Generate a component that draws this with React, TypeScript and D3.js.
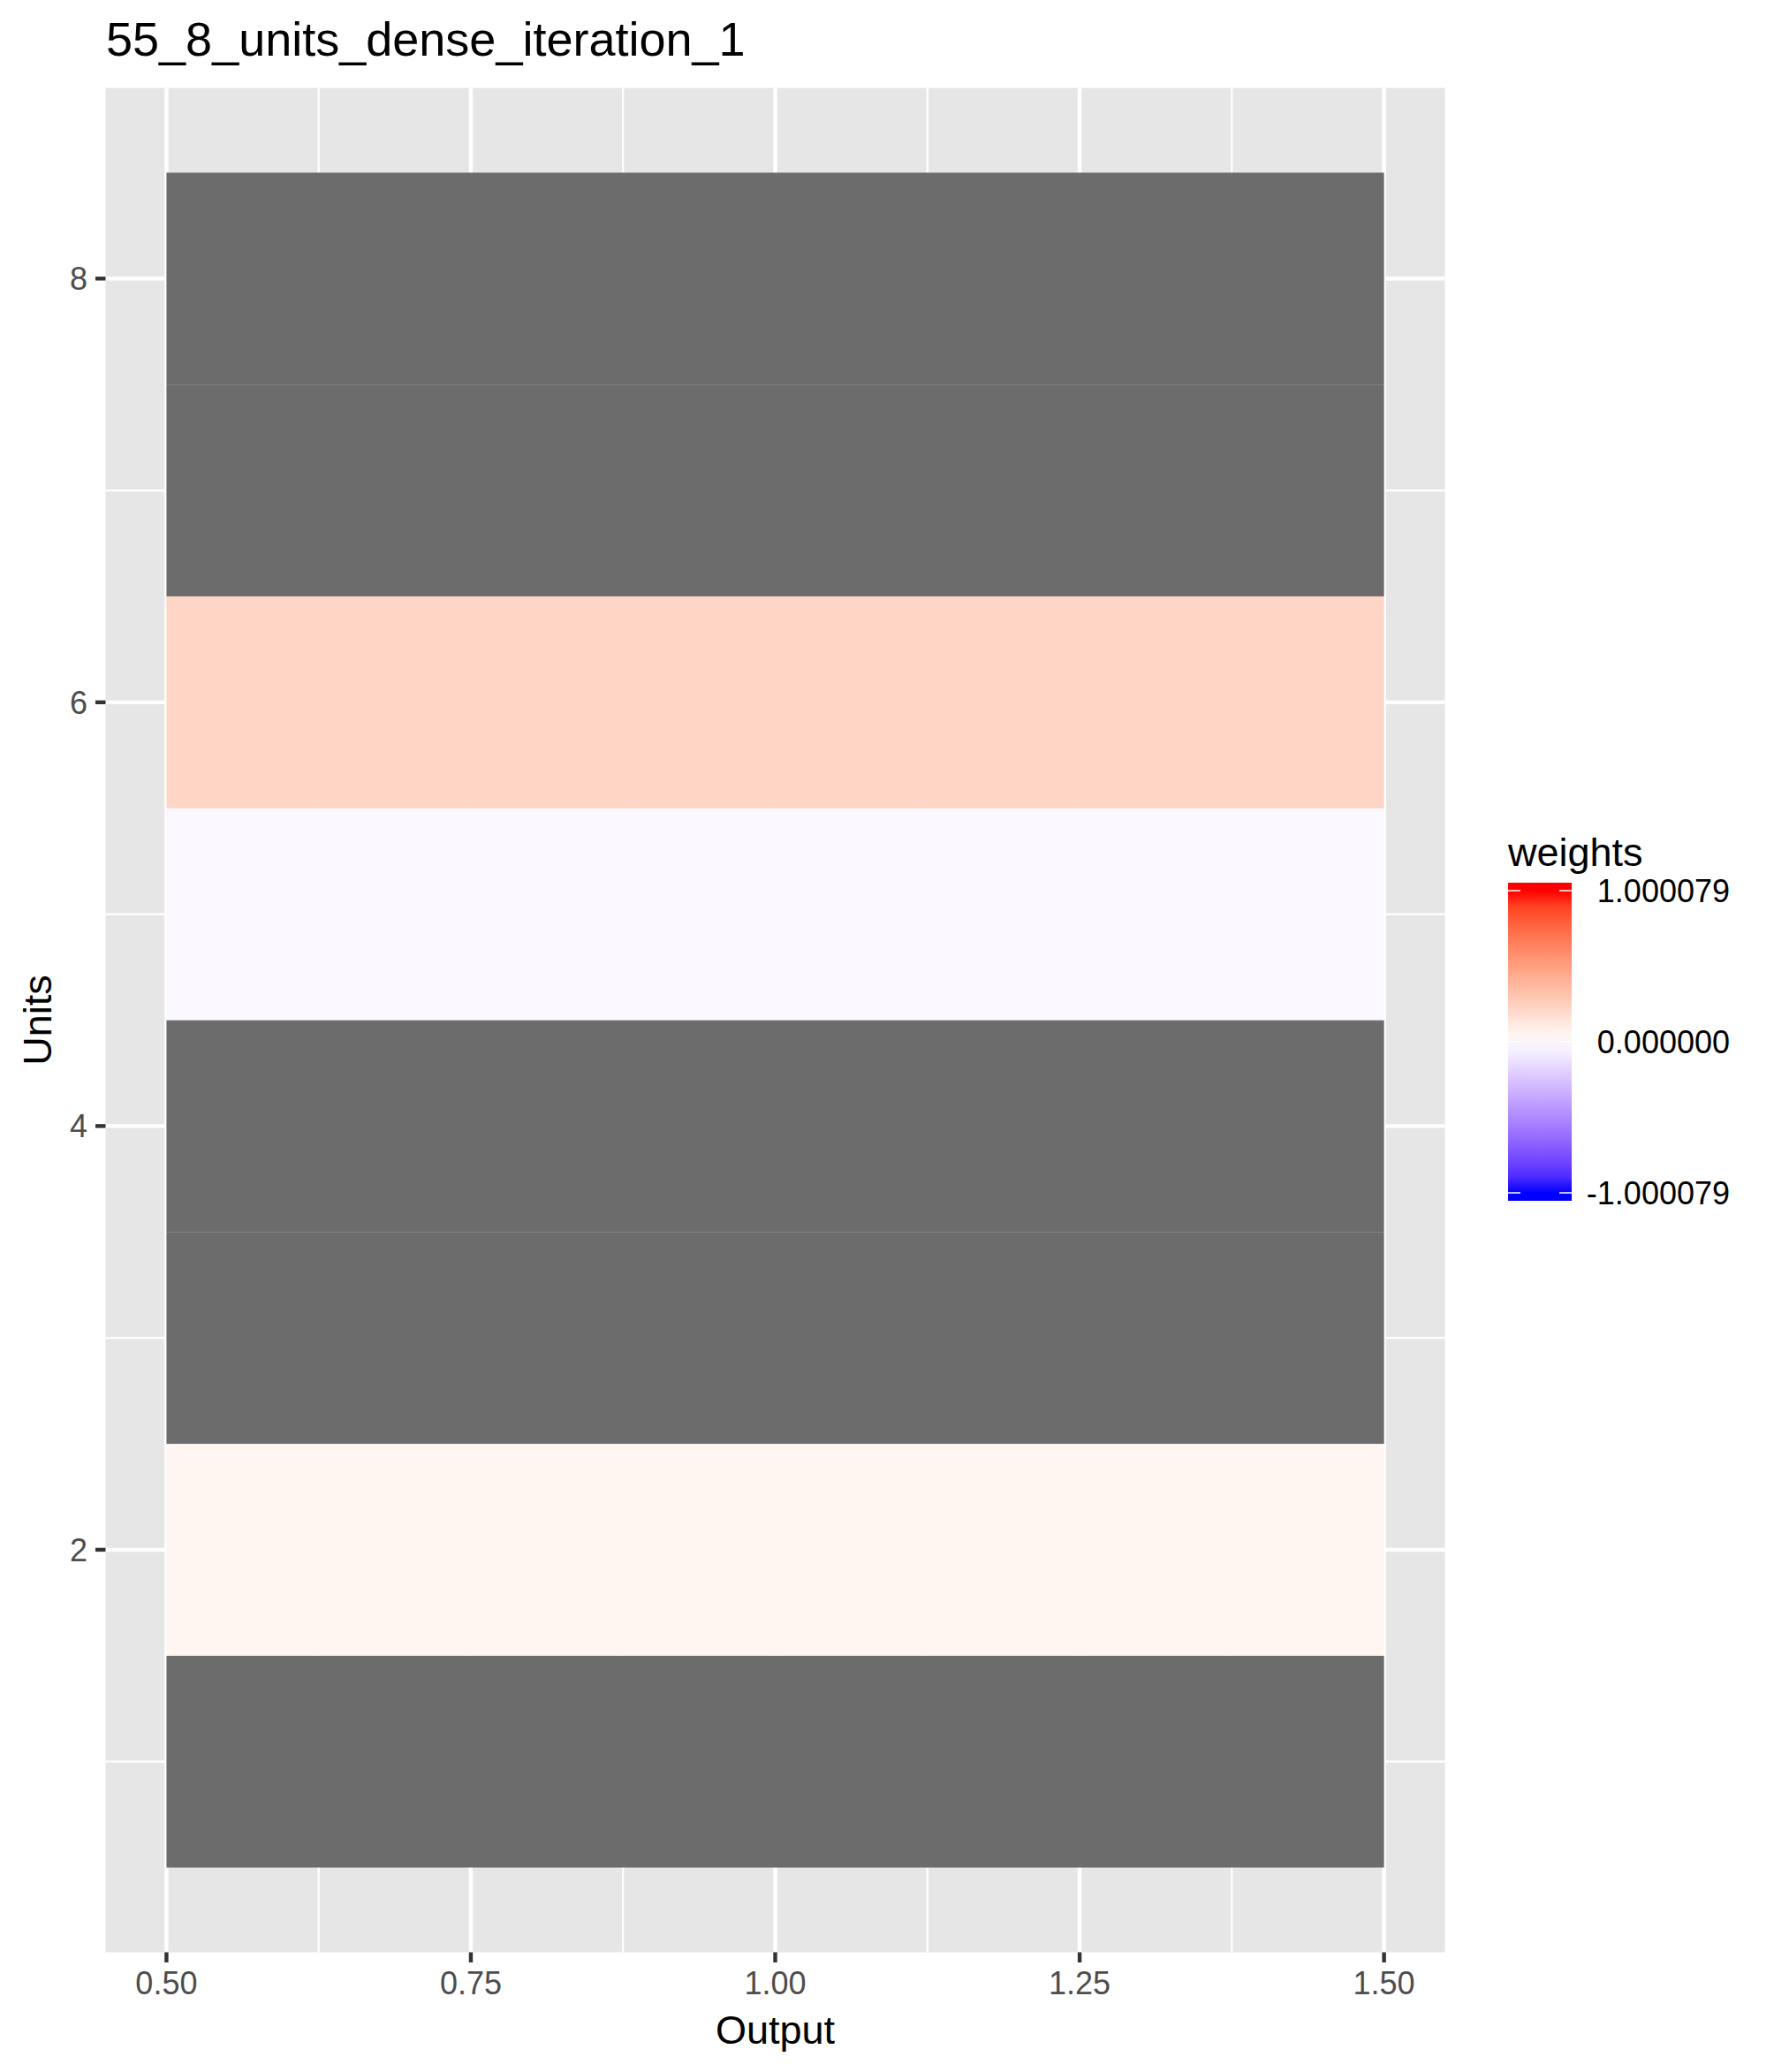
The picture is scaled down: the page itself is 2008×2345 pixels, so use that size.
import * as d3 from 'd3';

// ---- data ----
const units = [1, 2, 3, 4, 5, 6, 7, 8];
// null = NA (drawn grey)
const weights: (number | null)[] = [null, 0.05, null, null, -0.03, 0.22, null, null];
const limit = 1.000079;
const xTicks = [0.5, 0.75, 1.0, 1.25, 1.5];
const yTicks = [2, 4, 6, 8];
const legendLabels = ['1.000079', '0.000000', '-1.000079'];
const legendValues = [limit, 0, -limit];

const W = 2008;
const H = 2345;
const font = '"Liberation Sans", Arial, Helvetica, sans-serif';

const panel = { left: 119.5, right: 1635.5, top: 99.5, bottom: 2209.5 };

export default function App() {
  const x = d3.scaleLinear().domain([0.45, 1.55]).range([panel.left, panel.right]);
  const y = d3.scaleLinear().domain([0.1, 8.9]).range([panel.bottom, panel.top]);

  const fill = d3
    .scaleLinear<string>()
    .domain([-limit, 0, limit])
    .range(['#0000FF', '#FFFFFF', '#FF0000'])
    .interpolate(d3.interpolateLab);

  const xMinor = xTicks.slice(1).map((t, i) => (t + xTicks[i]) / 2);
  const yMinor = [1, 3, 5, 7];

  // legend colorbar: 20 bins, smoothed like an interpolated raster
  const nbin = 20;
  const bins = d3.range(nbin).map((i) => limit - (i * 2 * limit) / (nbin - 1));
  const ly = d3.scaleLinear().domain([-limit, limit]).range([1350, 1008]);
  const binH = (1350 - 1008) / (nbin - 1);
  const barX = 1707;
  const barW = 72;
  const barTop = ly(limit) - binH / 2;
  const barH = ly(-limit) - ly(limit) + binH;

  return (
    <svg
      width={W}
      height={H}
      style={{ position: 'absolute', left: 0, top: 0, background: '#fff' }}
      fontFamily={font}
    >
      <defs>
        <linearGradient id="legend-grad" x1="0" y1="0" x2="0" y2="1">
          {bins.map((v, i) => (
            <stop
              key={'st' + i}
              offset={`${((ly(v) - barTop) / barH) * 100}%`}
              stopColor={fill(v)}
            />
          ))}
        </linearGradient>
      </defs>
      <rect x={0} y={0} width={W} height={H} fill="#fff" />

      {/* title */}
      <text x={120} y={63} fontSize={54} fill="#000">
        55_8_units_dense_iteration_1
      </text>

      {/* panel */}
      <rect
        x={panel.left}
        y={panel.top}
        width={panel.right - panel.left}
        height={panel.bottom - panel.top}
        fill="#E6E6E6"
      />
      {xMinor.map((t) => (
        <line key={'xm' + t} x1={x(t)} x2={x(t)} y1={panel.top} y2={panel.bottom} stroke="#fff" strokeWidth={2.2} />
      ))}
      {yMinor.map((t) => (
        <line key={'ym' + t} x1={panel.left} x2={panel.right} y1={y(t)} y2={y(t)} stroke="#fff" strokeWidth={2.2} />
      ))}
      {xTicks.map((t) => (
        <line key={'xM' + t} x1={x(t)} x2={x(t)} y1={panel.top} y2={panel.bottom} stroke="#fff" strokeWidth={4.4} />
      ))}
      {yTicks.map((t) => (
        <line key={'yM' + t} x1={panel.left} x2={panel.right} y1={y(t)} y2={y(t)} stroke="#fff" strokeWidth={4.4} />
      ))}

      {/* tiles */}
      {units.map((u, i) => {
        const w = weights[i];
        return (
          <rect
            key={'tile' + u}
            x={x(0.5)}
            y={y(u + 0.5)}
            width={x(1.5) - x(0.5)}
            height={y(u - 0.5) - y(u + 0.5)}
            fill={w === null ? '#6C6C6C' : fill(w)}
          />
        );
      })}

      {/* x axis */}
      {xTicks.map((t) => (
        <g key={'xt' + t}>
          <line x1={x(t)} x2={x(t)} y1={panel.bottom} y2={panel.bottom + 11.5} stroke="#333" strokeWidth={4.4} />
          <text x={x(t)} y={2257} fontSize={36} fill="#4D4D4D" textAnchor="middle">
            {t.toFixed(2)}
          </text>
        </g>
      ))}
      <text x={(panel.left + panel.right) / 2} y={2313} fontSize={45} fill="#000" textAnchor="middle">
        Output
      </text>

      {/* y axis */}
      {yTicks.map((t) => (
        <g key={'yt' + t}>
          <line x1={panel.left - 11.5} x2={panel.left} y1={y(t)} y2={y(t)} stroke="#333" strokeWidth={4.4} />
          <text x={99} y={y(t)} dy="0.36em" fontSize={36} fill="#4D4D4D" textAnchor="end">
            {t}
          </text>
        </g>
      ))}
      <text
        transform={`translate(58,${(panel.top + panel.bottom) / 2}) rotate(-90)`}
        fontSize={45}
        fill="#000"
        textAnchor="middle"
      >
        Units
      </text>

      {/* legend */}
      <text x={1707} y={980} fontSize={45} fill="#000">
        weights
      </text>
      <rect x={barX} y={barTop} width={barW} height={barH} fill="url(#legend-grad)" />
      {legendValues.map((v, i) => (
        <g key={'lt' + i}>
          <line x1={barX} x2={barX + 14} y1={ly(v)} y2={ly(v)} stroke="#fff" strokeWidth={1.5} />
          <line x1={barX + barW - 14} x2={barX + barW} y1={ly(v)} y2={ly(v)} stroke="#fff" strokeWidth={1.5} />
          <text x={1958} y={ly(v)} dy="0.36em" fontSize={36} fill="#000" textAnchor="end">
            {legendLabels[i]}
          </text>
        </g>
      ))}
    </svg>
  );
}
